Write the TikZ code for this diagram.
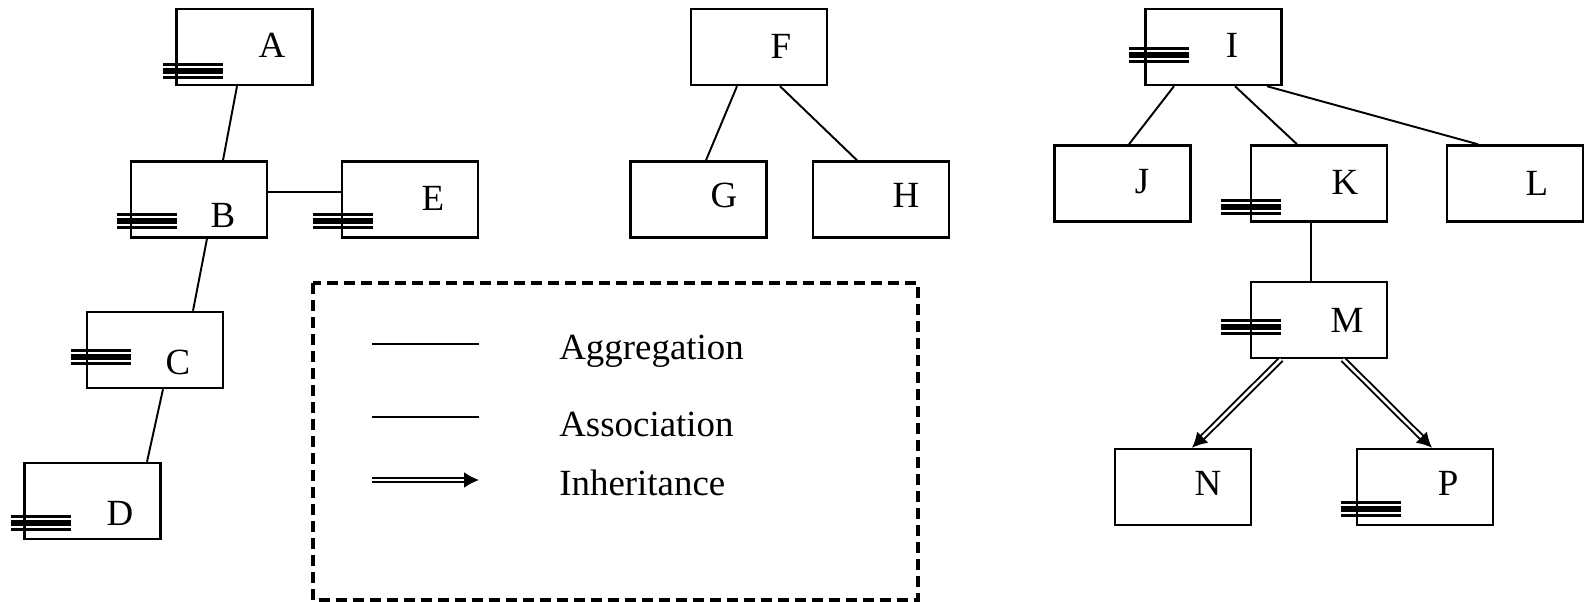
\documentclass[tikz,border=0pt]{standalone}
\usepackage{fontspec}
\setmainfont{Liberation Serif}
\usetikzlibrary{arrows.meta}

\begin{document}
\begin{tikzpicture}[
  cls/.style={draw, line width=1.4pt, minimum width=2.72cm, minimum height=1.52cm},
  lbl/.style={inner sep=0pt, font=\fontsize{21}{25}\selectfont},
  conn/.style={line width=1.1pt},
  inherit/.style={double, double distance=1.5pt, line width=1.1pt, -{Latex[length=0.3cm,width=0.32cm]}},
  keythin/.style={line width=1.4pt},
  keythick/.style={line width=3.2pt}]
  \useasboundingbox (0,0) rectangle (31.74,-12.04);

  % left tree
  \node[cls] (A) at (4.89,-0.94) {};  \node[lbl] (A-t) at (5.44,-0.90) {A};
  \node[cls] (B) at (3.98,-3.99) {};  \node[lbl] (B-t) at (4.46,-4.30) {B};
  \node[cls] (E) at (8.20,-3.99) {};  \node[lbl] (E-t) at (8.66,-3.96) {E};
  \node[cls] (C) at (3.10,-7.00) {};  \node[lbl] (C-t) at (3.56,-7.24) {C};
  \node[cls] (D) at (1.85,-10.02) {}; \node[lbl] (D-t) at (2.40,-10.26) {D};
  \draw[conn] ([xshift=-0.15cm]A.south) -- ([xshift=0.48cm]B.north);
  \draw[conn] ([yshift=0.15cm]B.east) -- ([yshift=0.15cm]E.west);
  \draw[conn] ([xshift=0.16cm]B.south) -- ([xshift=0.76cm]C.north);
  \draw[conn] ([xshift=0.16cm]C.south) -- ([xshift=1.09cm]D.north);

  % middle tree
  \node[cls] (F) at (15.18,-0.94) {}; \node[lbl] (F-t) at (15.62,-0.92) {F};
  \node[cls] (G) at (13.97,-3.99) {}; \node[lbl] (G-t) at (14.48,-3.90) {G};
  \node[cls] (H) at (17.62,-3.99) {}; \node[lbl] (H-t) at (18.12,-3.90) {H};
  \draw[conn] ([xshift=-0.44cm]F.south) -- ([xshift=0.15cm]G.north);
  \draw[conn] ([xshift=0.42cm]F.south) -- ([xshift=-0.48cm]H.north);

  % right tree
  \node[cls] (I) at (24.27,-0.94) {}; \node[lbl] (I-t) at (24.64,-0.90) {I};
  \node[cls] (J) at (22.45,-3.67) {}; \node[lbl] (J-t) at (22.84,-3.64) {J};
  \node[cls] (K) at (26.38,-3.67) {}; \node[lbl] (K-t) at (26.90,-3.64) {K};
  \node[cls] (L) at (30.30,-3.67) {}; \node[lbl] (L-t) at (30.74,-3.66) {L};
  \node[cls] (M) at (26.38,-6.40) {}; \node[lbl] (M-t) at (26.94,-6.40) {M};
  \node[cls] (N) at (23.66,-9.74) {}; \node[lbl] (N-t) at (24.16,-9.66) {N};
  \node[cls] (P) at (28.50,-9.74) {}; \node[lbl] (P-t) at (28.96,-9.66) {P};
  \draw[conn] ([xshift=-0.79cm]I.south) -- ([xshift=0.13cm]J.north);
  \draw[conn] ([xshift=0.43cm]I.south) -- ([xshift=-0.44cm]K.north);
  \draw[conn] ([xshift=1.07cm]I.south) -- ([xshift=-0.74cm]L.north);
  \draw[conn] ([xshift=-0.16cm]K.south) -- ([xshift=-0.16cm]M.north);
  \draw[inherit] ([xshift=-0.76cm]M.south) -- ([xshift=0.18cm]N.north);
  \draw[inherit] ([xshift=0.48cm]M.south) -- ([xshift=0.14cm]P.north);

  % key marks
  \foreach \x/\y in {3.26/-1.42, 2.34/-4.42, 6.26/-4.42, 1.42/-7.14, 0.22/-10.46,
                     22.58/-1.10, 24.42/-4.14, 24.42/-6.54, 26.82/-10.18} {
    \draw[keythin] (\x,\y+0.13) -- ++(1.2,0);
    \draw[keythick] (\x,\y) -- ++(1.2,0);
    \draw[keythin] (\x,\y-0.13) -- ++(1.2,0);
  }

  % legend
  \draw[line width=2pt, dash pattern=on 0.22cm off 0.12cm] (6.26,-5.66) rectangle (18.36,-12.00);
  \coordinate (agg-s) at (7.44,-6.88); \coordinate (agg-e) at (9.58,-6.88);
  \coordinate (ass-s) at (7.44,-8.34); \coordinate (ass-e) at (9.58,-8.34);
  \coordinate (inh-s) at (7.44,-9.60); \coordinate (inh-e) at (9.58,-9.60);
  \draw[conn] (agg-s) -- (agg-e);
  \draw[conn] (ass-s) -- (ass-e);
  \draw[inherit] (inh-s) -- (inh-e);
  \node[lbl, anchor=base west] (agg-t) at (11.18,-7.18) {Aggregation};
  \node[lbl, anchor=base west] (ass-t) at (11.18,-8.72) {Association};
  \node[lbl, anchor=base west] (inh-t) at (11.18,-9.90) {Inheritance};
\end{tikzpicture}
\end{document}
